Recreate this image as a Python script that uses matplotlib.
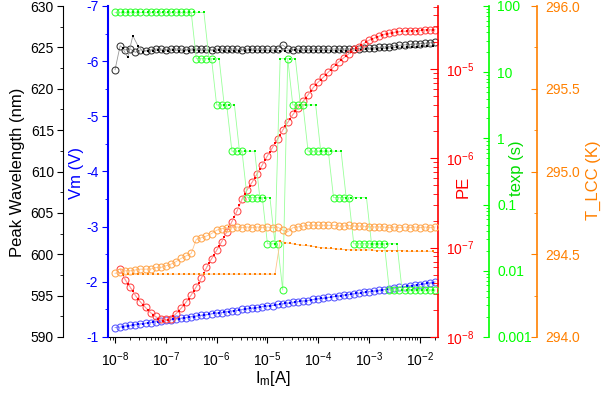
import numpy as np
import matplotlib
matplotlib.use("Agg")
import matplotlib.pyplot as plt
from matplotlib.ticker import MultipleLocator, LogLocator, NullFormatter, FormatStrFormatter

plt.rcParams['font.family'] = ['Liberation Sans', 'DejaVu Sans']
plt.rcParams['mathtext.fontset'] = 'custom'
plt.rcParams['mathtext.rm'] = 'Liberation Sans'
plt.rcParams['mathtext.it'] = 'Liberation Sans:italic'
plt.rcParams['mathtext.default'] = 'regular'
plt.rcParams['axes.unicode_minus'] = False

nan = np.nan

# Barrido 1 (circulos huecos) y barrido 2 (cuadros llenos)
corriente_1 = [1.00e-8, 1.26e-8, 1.58e-8, 2.00e-8, 2.51e-8, 3.16e-8, 3.98e-8, 5.01e-8, 6.31e-8, 7.94e-8,
               1.00e-7, 1.26e-7, 1.58e-7, 2.00e-7, 2.51e-7, 3.16e-7, 3.98e-7, 5.01e-7, 6.31e-7, 7.94e-7,
               1.00e-6, 1.26e-6, 1.58e-6, 2.00e-6, 2.51e-6, 3.16e-6, 3.98e-6, 5.01e-6, 6.31e-6, 7.94e-6,
               1.00e-5, 1.26e-5, 1.58e-5, 2.00e-5, 2.51e-5, 3.16e-5, 3.98e-5, 5.01e-5, 6.31e-5, 7.94e-5,
               1.00e-4, 1.26e-4, 1.58e-4, 2.00e-4, 2.51e-4, 3.16e-4, 3.98e-4, 5.01e-4, 6.31e-4, 7.94e-4,
               1.00e-3, 1.26e-3, 1.58e-3, 2.00e-3, 2.51e-3, 3.16e-3, 3.98e-3, 5.01e-3, 6.31e-3, 7.94e-3,
               1.00e-2, 1.26e-2, 1.58e-2, 2.00e-2]
corriente_2 = [1.12e-8, 1.41e-8, 1.78e-8, 2.24e-8, 2.82e-8, 3.55e-8, 4.47e-8, 5.62e-8, 7.08e-8, 8.91e-8,
               1.12e-7, 1.41e-7, 1.78e-7, 2.24e-7, 2.82e-7, 3.55e-7, 4.47e-7, 5.62e-7, 7.08e-7, 8.91e-7,
               1.12e-6, 1.41e-6, 1.78e-6, 2.24e-6, 2.82e-6, 3.55e-6, 4.47e-6, 5.62e-6, 7.08e-6, 8.91e-6,
               1.12e-5, 1.41e-5, 1.78e-5, 2.24e-5, 2.82e-5, 3.55e-5, 4.47e-5, 5.62e-5, 7.08e-5, 8.91e-5,
               1.12e-4, 1.41e-4, 1.78e-4, 2.24e-4, 2.82e-4, 3.55e-4, 4.47e-4, 5.62e-4, 7.08e-4, 8.91e-4,
               1.12e-3, 1.41e-3, 1.78e-3, 2.24e-3, 2.82e-3, 3.55e-3, 4.47e-3, 5.62e-3, 7.08e-3, 8.91e-3,
               1.12e-2, 1.41e-2, 1.78e-2]

# Longitud de onda pico (nm)
lambda_1 = [622.3, 625.2, 624.7, 624.8, 624.4, 624.7, 624.6, 624.7, 624.8, 624.8,
            624.7, 624.8, 624.8, 624.8, 624.7, 624.8, 624.8, 624.8, 624.8, 624.7,
            624.8, 624.8, 624.8, 624.8, 624.8, 624.7, 624.8, 624.8, 624.8, 624.8,
            624.8, 624.8, 624.8, 625.3, 624.8, 624.7, 624.8, 624.8, 624.8, 624.8,
            624.8, 624.8, 624.8, 624.8, 624.8, 624.8, 624.8, 624.85, 624.85, 624.9,
            624.9, 624.95, 625.0, 625.05, 625.1, 625.2, 625.25, 625.3, 625.35, 625.4,
            625.45, 625.5, 625.55, 625.6]
lambda_2 = [nan, 624.9, 623.8, 626.4, 625.2, 624.5, 624.6, 624.6, 624.7, 624.6,
            624.6, 624.7, 624.6, 624.6, 624.6, 624.7, 624.6, 624.6, 624.6, 624.6,
            624.7, 624.6, 624.6, 624.6, 624.6, 624.6, 624.7, 624.6, 624.6, 624.6,
            624.6, 624.6, 624.6, 624.6, 624.6, 624.7, 624.6, 624.6, 624.6, 624.6,
            624.6, 624.6, 624.6, 624.6, 624.6, 624.6, 624.65, 624.7, 624.7, 624.75,
            624.8, 624.8, 624.85, 624.9, 624.95, 625.0, 625.0, 625.05, 625.1, 625.1,
            625.15, 625.2, 625.2]

# Voltaje Vm (V)
vm_1 = [-1.17, -1.18, -1.20, -1.21, -1.22, -1.24, -1.25, -1.26, -1.28, -1.29,
        -1.30, -1.31, -1.33, -1.34, -1.35, -1.37, -1.38, -1.39, -1.40, -1.42,
        -1.43, -1.44, -1.46, -1.47, -1.48, -1.50, -1.51, -1.52, -1.53, -1.55,
        -1.56, -1.57, -1.59, -1.60, -1.61, -1.63, -1.64, -1.65, -1.66, -1.68,
        -1.69, -1.70, -1.72, -1.73, -1.74, -1.76, -1.77, -1.78, -1.79, -1.81,
        -1.82, -1.83, -1.85, -1.86, -1.87, -1.89, -1.90, -1.91, -1.92, -1.94,
        -1.95, -1.96, -1.98, -2.00]
vm_2 = [nan, -1.19, -1.20, -1.22, -1.23, -1.24, -1.26, -1.27, -1.28, -1.30,
        -1.31, -1.32, -1.33, -1.35, -1.36, -1.37, -1.39, -1.40, -1.41, -1.43,
        -1.44, -1.45, -1.46, -1.48, -1.49, -1.50, -1.52, -1.53, -1.54, -1.56,
        -1.57, -1.58, -1.59, -1.61, -1.62, -1.63, -1.65, -1.66, -1.67, -1.69,
        -1.70, -1.71, -1.72, -1.74, -1.75, -1.76, -1.78, -1.79, -1.80, -1.82,
        -1.83, -1.84, -1.85, -1.87, -1.88, -1.89, -1.91, -1.92, -1.93, -1.95,
        -1.96, -1.97, -1.98]

# Eficiencia PE
pe_1 = [nan, 5.75e-8, 4.34e-8, 3.62e-8, 2.91e-8, 2.46e-8, 2.14e-8, 1.86e-8, 1.70e-8, 1.58e-8,
        1.57e-8, 1.61e-8, 1.82e-8, 2.09e-8, 2.46e-8, 2.94e-8, 3.65e-8, 4.54e-8, 6.00e-8, 7.50e-8,
        9.31e-8, 1.16e-7, 1.51e-7, 1.95e-7, 2.54e-7, 3.52e-7, 4.46e-7, 5.41e-7, 6.75e-7, 8.45e-7,
        1.07e-6, 1.32e-6, 1.63e-6, 2.08e-6, 2.52e-6, 3.10e-6, 3.66e-6, 4.34e-6, 5.12e-6, 6.21e-6,
        7.16e-6, 8.04e-6, 9.24e-6, 1.05e-5, 1.20e-5, 1.33e-5, 1.47e-5, 1.66e-5, 1.76e-5, 1.93e-5,
        2.11e-5, 2.21e-5, 2.33e-5, 2.45e-5, 2.51e-5, 2.57e-5, 2.63e-5, 2.64e-5, 2.67e-5, 2.69e-5,
        2.69e-5, 2.74e-5, 2.74e-5, 2.75e-5]
pe_2 = [nan, 5.00e-8, 3.96e-8, 3.24e-8, 2.67e-8, 2.29e-8, 2.00e-8, 1.78e-8, 1.58e-8, 1.52e-8,
        1.55e-8, 1.70e-8, 1.95e-8, 2.27e-8, 2.69e-8, 3.28e-8, 4.07e-8, 5.22e-8, 6.71e-8, 8.36e-8,
        1.04e-7, 1.32e-7, 1.72e-7, 2.23e-7, 2.99e-7, 3.96e-7, 4.91e-7, 6.04e-7, 7.55e-7, 9.51e-7,
        1.19e-6, 1.47e-6, 1.84e-6, 2.29e-6, 2.79e-6, 3.37e-6, 3.99e-6, 4.71e-6, 5.64e-6, 6.67e-6,
        7.59e-6, 8.62e-6, 9.85e-6, 1.12e-5, 1.26e-5, 1.40e-5, 1.56e-5, 1.71e-5, 1.84e-5, 2.02e-5,
        2.16e-5, 2.27e-5, 2.39e-5, 2.48e-5, 2.54e-5, 2.60e-5, 2.63e-5, 2.65e-5, 2.68e-5, 2.69e-5,
        2.71e-5, 2.74e-5, 2.75e-5]

# Tiempo de exposicion (s)
texp_1 = [80, 80, 80, 80, 80, 80, 80, 80, 80, 80,
          80, 80, 80, 80, 80, 80, 16, 16, 16, 16,
          3.2, 3.2, 3.2, 0.64, 0.64, 0.64, 0.128, 0.128, 0.128, 0.128,
          0.0256, 0.0256, 0.0256, 0.00512, 16, 3.2, 3.2, 3.2, 0.64, 0.64,
          0.64, 0.64, 0.64, 0.128, 0.128, 0.128, 0.128, 0.0256, 0.0256, 0.0256,
          0.0256, 0.0256, 0.0256, 0.0256, 0.00512, 0.00512, 0.00512, 0.00512, 0.00512, 0.00512,
          0.00512, 0.00512, 0.00512, 0.00512]
texp_2 = [nan, 80, 80, 80, 80, 80, 80, 80, 80, 80,
          80, 80, 80, 80, 80, 80, 80, 80, 16, 16,
          16, 3.2, 3.2, 3.2, 0.64, 0.64, 0.64, 0.64, 0.128, 0.128,
          0.128, 0.0256, 16, 16, 16, 16, 3.2, 3.2, 3.2, 3.2,
          0.64, 0.64, 0.64, 0.64, 0.64, 0.128, 0.128, 0.128, 0.128, 0.128,
          0.0256, 0.0256, 0.0256, 0.0256, 0.0256, 0.0256, 0.00512, 0.00512, 0.00512, 0.00512,
          0.00512, 0.00512, 0.00512]

# Temperatura T_LCC (K)
tlcc_1 = [294.385, 294.39, 294.40, 294.40, 294.405, 294.41, 294.41, 294.41, 294.42, 294.42,
          294.43, 294.44, 294.455, 294.475, 294.49, 294.505, 294.59, 294.60, 294.61, 294.625,
          294.645, 294.655, 294.66, 294.66, 294.665, 294.66, 294.665, 294.66, 294.665, 294.66,
          294.665, 294.66, 294.665, 294.645, 294.635, 294.66, 294.665, 294.67, 294.675, 294.675,
          294.675, 294.675, 294.675, 294.675, 294.67, 294.67, 294.675, 294.67, 294.67, 294.67,
          294.665, 294.665, 294.665, 294.665, 294.66, 294.665, 294.66, 294.665, 294.66, 294.665,
          294.66, 294.665, 294.66, 294.665]
tlcc_2 = [nan, 294.38, 294.38, 294.38, 294.38, 294.38, 294.38, 294.38, 294.38, 294.38,
          294.38, 294.38, 294.38, 294.38, 294.38, 294.38, 294.38, 294.38, 294.38, 294.38,
          294.38, 294.38, 294.38, 294.38, 294.38, 294.38, 294.38, 294.38, 294.38, 294.38,
          294.38, 294.38, 294.58, 294.57, 294.565, 294.56, 294.556, 294.553, 294.55, 294.545,
          294.54, 294.537, 294.535, 294.532, 294.53, 294.528, 294.526, 294.526, 294.526, 294.526,
          294.526, 294.522, 294.522, 294.522, 294.522, 294.522, 294.522, 294.518, 294.518, 294.518,
          294.518, 294.518, 294.518]


def dibujar(eje, y1, y2, c_hueco, c_lleno, c_linea):
    eje.plot(corriente_1, y1, '-', color=c_linea, lw=0.6, marker='o', ms=5.0,
             mfc='none', mec=c_hueco, mew=0.75)
    eje.plot(corriente_2, y2, '-', color=c_linea, lw=0.6, marker='s', ms=2.0,
             mfc=c_lleno, mec=c_lleno, mew=0)


fig = plt.figure(figsize=(6.02, 3.93), dpi=100)
ax = fig.add_axes([108/602, 1 - 337/393, 330/602, 331/393])
ax_vm = ax.twinx()
ax_pe = ax.twinx()
ax_te = ax.twinx()
ax_tl = ax.twinx()

for eje in [ax, ax_vm, ax_pe, ax_te, ax_tl]:
    for s in eje.spines.values():
        s.set_visible(False)
    eje.patch.set_visible(False)

# Eje principal: longitud de onda
dibujar(ax, lambda_1, lambda_2, '#333333', '#000000', '#999999')
ax.set_xscale('log')
ax.set_xlim(7.27e-9, 2.28e-2)
ax.set_ylim(590, 630)
ax.spines['left'].set_visible(True)
ax.spines['left'].set_position(('outward', 32.4))
ax.spines['bottom'].set_visible(True)
ax.yaxis.set_major_locator(MultipleLocator(5))
ax.yaxis.set_minor_locator(MultipleLocator(2.5))
ax.xaxis.set_major_locator(LogLocator(base=10, numticks=20))
ax.xaxis.set_minor_locator(LogLocator(base=10, subs=np.arange(2, 10), numticks=20))
ax.xaxis.set_minor_formatter(NullFormatter())
ax.tick_params(axis='both', which='major', direction='out', length=4.5, width=0.8, labelsize=10)
ax.tick_params(axis='both', which='minor', direction='out', length=2.5, width=0.6)
ax.tick_params(axis='y', pad=2)
ax.tick_params(axis='x', pad=5)

# Vm
dibujar(ax_vm, vm_1, vm_2, '#5555FF', '#0000FF', '#8888FF')
ax_vm.set_ylim(-1, -7)
ax_vm.yaxis.tick_left()
ax_vm.spines['left'].set_visible(True)
ax_vm.spines['left'].set_color('#0000FF')
ax_vm.spines['left'].set_linewidth(1.5)
ax_vm.yaxis.set_major_locator(MultipleLocator(1))
ax_vm.yaxis.set_minor_locator(MultipleLocator(0.5))
ax_vm.yaxis.set_major_formatter(FormatStrFormatter('%g'))
ax_vm.tick_params(axis='y', which='major', direction='out', length=4, width=0.8,
                  colors='#0000FF', labelsize=10, pad=3)
ax_vm.tick_params(axis='y', which='minor', direction='out', length=2.5, width=0.6, colors='#0000FF')

# PE
dibujar(ax_pe, pe_1, pe_2, '#FF4444', '#FF0000', '#FF9999')
ax_pe.set_yscale('log')
ax_pe.set_ylim(1e-8, 5.07e-5)
ax_pe.spines['right'].set_visible(True)
ax_pe.spines['right'].set_color('#FF0000')
ax_pe.spines['right'].set_linewidth(1.2)
ax_pe.yaxis.set_major_locator(LogLocator(base=10, numticks=10))
ax_pe.yaxis.set_minor_locator(LogLocator(base=10, subs=np.arange(2, 10), numticks=10))
ax_pe.yaxis.set_minor_formatter(NullFormatter())
ax_pe.tick_params(axis='y', which='major', direction='in', length=6, width=0.8,
                  colors='#FF0000', labelsize=10, pad=6)
ax_pe.tick_params(axis='y', which='minor', direction='in', length=3.3, width=0.6, colors='#FF0000')

# texp
dibujar(ax_te, texp_1, texp_2, '#33FF33', '#00EE00', '#99FF99')
ax_te.set_yscale('log')
ax_te.set_ylim(1e-3, 100)
ax_te.spines['right'].set_visible(True)
ax_te.spines['right'].set_position(('outward', 36.7))
ax_te.spines['right'].set_color('#00FF00')
ax_te.spines['right'].set_linewidth(1.2)
ax_te.yaxis.set_major_locator(LogLocator(base=10, numticks=10))
ax_te.yaxis.set_minor_locator(LogLocator(base=10, subs=np.arange(2, 10), numticks=10))
ax_te.yaxis.set_major_formatter(FormatStrFormatter('%g'))
ax_te.yaxis.set_minor_formatter(NullFormatter())
ax_te.tick_params(axis='y', which='major', direction='in', length=4.5, width=0.8,
                  colors='#00FF00', labelsize=10, pad=6)
ax_te.tick_params(axis='y', which='minor', direction='in', length=2.5, width=0.6, colors='#00FF00')

# T_LCC
dibujar(ax_tl, tlcc_1, tlcc_2, '#FFA64D', '#FF7F00', '#FFC38A')
ax_tl.set_ylim(294.0, 296.0)
ax_tl.spines['right'].set_visible(True)
ax_tl.spines['right'].set_position(('outward', 71.3))
ax_tl.spines['right'].set_color('#FF8000')
ax_tl.spines['right'].set_linewidth(1.2)
ax_tl.yaxis.set_major_locator(MultipleLocator(0.5))
ax_tl.yaxis.set_minor_locator(MultipleLocator(0.25))
ax_tl.yaxis.set_major_formatter(FormatStrFormatter('%.1f'))
ax_tl.tick_params(axis='y', which='major', direction='in', length=4.5, width=0.8,
                  colors='#FF8000', labelsize=10, pad=6)
ax_tl.tick_params(axis='y', which='minor', direction='in', length=2.5, width=0.6, colors='#FF8000')

# Titulos de ejes
def px(x, y):
    return x / 602, 1 - y / 393

fig.text(*px(18, 172), 'Peak Wavelength (nm)', rotation=90, ha='center', va='center',
         fontsize=12, color='black')
fig.text(*px(77, 173), 'Vm (V)', rotation=90, ha='center', va='center',
         fontsize=12, color='#0000FF')
fig.text(*px(463, 187), 'PE', rotation=90, ha='center', va='center',
         fontsize=12, color='#FF0000')
fig.text(*px(517, 168), 'texp (s)', rotation=90, ha='center', va='center',
         fontsize=12, color='#00DD00')
fig.text(*px(593, 180), 'T_LCC (K)', rotation=90, ha='center', va='center',
         fontsize=12, color='#FF8000')
fig.text(*px(273, 378), 'I$_m$[A]', ha='center', va='center', fontsize=12, color='black')

fig.savefig('out.png', dpi=100)
